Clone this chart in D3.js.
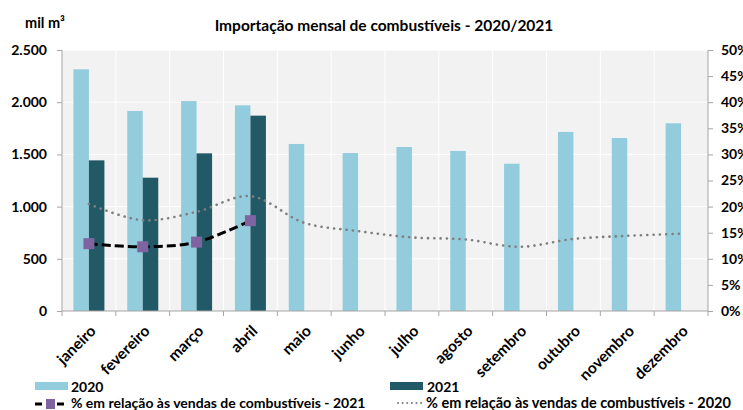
<!DOCTYPE html>
<html>
<head>
<meta charset="utf-8">
<script src="https://cdn.jsdelivr.net/npm/d3@7"></script>
<style>
  body { margin: 0; background: #fff; }
  svg { font-family: Lato, "Open Sans", sans-serif; font-weight: bold; }
</style>
</head>
<body>
<svg id="chart" width="743" height="410"></svg>
<script>
// data
var months = ['janeiro', 'fevereiro', 'março', 'abril', 'maio', 'junho',
              'julho', 'agosto', 'setembro', 'outubro', 'novembro', 'dezembro'];
var imp2020 = [2315, 1916, 2011, 1970, 1600, 1513, 1571, 1533, 1411, 1715, 1657, 1798];
var imp2021 = [1443, 1277, 1510, 1871];
var pct2020 = [20.5, 17.4, 19.0, 22.0, 16.9, 15.3, 14.1, 13.7, 12.3, 13.8, 14.4, 14.8];
var pct2021 = [12.9, 12.3, 13.2, 17.3];
var leftTicks = [0, 500, 1000, 1500, 2000, 2500];
var rightTicks = [0, 5, 10, 15, 20, 25, 30, 35, 40, 45, 50];

var svg = d3.select('#chart');
var margin = { top: 50, right: 35, bottom: 99, left: 62 };
var width = 743 - margin.left - margin.right;
var height = 410 - margin.top - margin.bottom;

var c2020 = '#93cddd';
var c2021 = '#215967';

var x = d3.scaleBand().domain(months).range([0, width]);
var xs = d3.scaleBand().domain(['2020', '2021']).range([0, 31])
var y = d3.scaleLinear().domain([0, 2500]).range([height, 0]);
var yr = d3.scaleLinear().domain([0, 50]).range([height, 0]);

var g = svg.append('g').attr('transform', 'translate(' + margin.left + ',' + margin.top + ')');

// plot background
g.append('rect')
  .attr('width', width)
  .attr('height', height)
  .attr('fill', '#f2f2f2');

// grid lines
g.selectAll('.hgrid')
  .data(leftTicks.slice(1))
  .enter().append('line')
  .attr('x1', 0).attr('x2', width)
  .attr('y1', d => y(d)).attr('y2', d => y(d))
  .attr('stroke', '#fff').attr('stroke-width', 1);

g.selectAll('.vgrid')
  .data(months.slice(1))
  .enter().append('line')
  .attr('x1', d => x(d)).attr('x2', d => x(d))
  .attr('y1', 0).attr('y2', height)
  .attr('stroke', '#fff').attr('stroke-width', 1);

// bars
var pad = (x.bandwidth() - 31) / 2;
g.selectAll('.b2020')
  .data(imp2020)
  .enter().append('rect')
  .attr('x', (d, i) => x(months[i]) + pad + xs('2020'))
  .attr('y', d => y(d))
  .attr('width', xs.bandwidth())
  .attr('height', d => height - y(d))
  .attr('fill', c2020);

g.selectAll('.b2021')
  .data(imp2021)
  .enter().append('rect')
  .attr('x', (d, i) => x(months[i]) + pad + xs('2021'))
  .attr('y', d => y(d))
  .attr('width', xs.bandwidth())
  .attr('height', d => height - y(d))
  .attr('fill', c2021);

// lines
var line = d3.line()
  .x((d, i) => x(months[i]) + x.bandwidth() / 2)
  .y(d => yr(d))
  .curve(d3.curveCatmullRom.alpha(0.5));

g.append('path')
  .datum(pct2020)
  .attr('d', line)
  .attr('fill', 'none')
  .attr('stroke', '#7f7f7f')
  .attr('stroke-width', 2.6)
  .attr('stroke-linecap', 'round')
  .attr('stroke-dasharray', '0.1,6.2');

g.append('path')
  .datum(pct2021)
  .attr('d', line)
  .attr('fill', 'none')
  .attr('stroke', '#000')
  .attr('stroke-width', 3)
  .attr('stroke-dasharray', '9,4');

g.selectAll('.mk')
  .data(pct2021)
  .enter().append('rect')
  .attr('x', (d, i) => x(months[i]) + x.bandwidth() / 2 - 5.5)
  .attr('y', d => yr(d) - 5.5)
  .attr('width', 11).attr('height', 11)
  .attr('fill', '#8064a2');

// axes
var axisColor = '#a6a6a6';

var yAxis = g.append('g')
  .call(d3.axisLeft(y).tickValues(leftTicks).tickSize(5).tickPadding(10)
    .tickFormat(d => d3.format(',')(d).replace(',', '.')));
var yrAxis = g.append('g')
  .attr('transform', 'translate(' + width + ',0)')
  .call(d3.axisRight(yr).tickValues(rightTicks).tickSize(5).tickPadding(8)
    .tickFormat(d => d + '%'));
var xAxis = g.append('g')
  .attr('transform', 'translate(0,' + height + ')')
  .call(d3.axisBottom(x).tickSize(0).tickFormat(''));

// ticks at band edges on x axis
xAxis.selectAll('.edge')
  .data(months.concat(['end']))
  .enter().append('line')
  .attr('x1', (d, i) => i * x.bandwidth()).attr('x2', (d, i) => i * x.bandwidth())
  .attr('y1', 0).attr('y2', 5)
  .attr('stroke', axisColor);

[yAxis, yrAxis, xAxis].forEach(a => {
  a.selectAll('path, line').attr('stroke', axisColor);
  a.selectAll('.domain').attr('d', null);
});
yAxis.append('line').attr('y1', 0).attr('y2', height).attr('stroke', axisColor);
yrAxis.append('line').attr('y1', 0).attr('y2', height).attr('stroke', axisColor);
xAxis.append('line').attr('x1', 0).attr('x2', width).attr('stroke', axisColor);

g.selectAll('.tick text')
  .attr('fill', '#000')
  .attr('font-size', '14px')
  .attr('font-weight', 'bold')
  .attr('font-family', 'Lato, sans-serif');

// month labels
g.selectAll('.mlab')
  .data(months)
  .enter().append('text')
  .attr('transform', d => 'translate(' + (x(d) + x.bandwidth() / 2 + 8) + ',' + (height + 21) + ') rotate(-45)')
  .attr('text-anchor', 'end')
  .attr('font-size', '15.5px')
  .text(d => d);

// titles
svg.append('text')
  .attr('x', 384).attr('y', 31)
  .attr('text-anchor', 'middle')
  .attr('font-size', '15.5px')
  .text('Importação mensal de combustíveis - 2020/2021');

svg.append('text')
  .attr('x', 25).attr('y', 28)
  .attr('font-size', '14.5px')
  .text('mil m³');

// legend
var leg = svg.append('g').attr('font-size', '14px');
leg.append('rect').attr('x', 35).attr('y', 382).attr('width', 33).attr('height', 8).attr('fill', c2020);
leg.append('text').attr('x', 71).attr('y', 392).text('2020');
leg.append('rect').attr('x', 390).attr('y', 382).attr('width', 33).attr('height', 8).attr('fill', c2021);
leg.append('text').attr('x', 427).attr('y', 392).text('2021');

leg.append('line').attr('x1', 35).attr('x2', 68).attr('y1', 404).attr('y2', 404)
  .attr('stroke', '#000').attr('stroke-width', 3).attr('stroke-dasharray', '7,4');
leg.append('rect').attr('x', 46).attr('y', 399).attr('width', 9).attr('height', 10).attr('fill', '#8064a2');
leg.append('text').attr('x', 71).attr('y', 408).text('% em relação às vendas de combustíveis - 2021');

leg.append('line').attr('x1', 398).attr('x2', 423).attr('y1', 403).attr('y2', 403)
  .attr('stroke', '#7f7f7f').attr('stroke-width', 2).attr('stroke-linecap', 'round')
  .attr('stroke-dasharray', '0.1,4.5');
leg.append('text').attr('x', 426).attr('y', 408).attr('font-size', '14.5px')
  .text('% em relação às vendas de combustíveis - 2020');
</script>
</body>
</html>
